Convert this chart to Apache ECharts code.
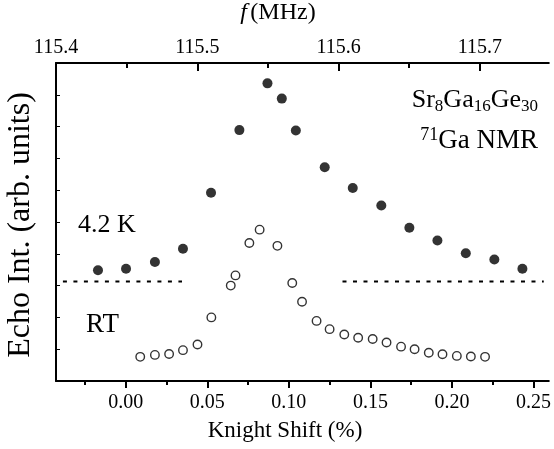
<!DOCTYPE html>
<html>
<head>
<meta charset="utf-8">
<script src="https://cdn.jsdelivr.net/npm/echarts@6/dist/echarts.min.js"></script>
<style>html,body{margin:0;padding:0;background:#fff;}#c{width:554px;height:449px;}</style>
</head>
<body>
<div id="c"></div>
<script>
// ---- data ----
const lowShift = [-0.0170, 0.0002, 0.0179, 0.0351, 0.0523, 0.0697, 0.0869, 0.0957, 0.1043, 0.1220, 0.1392, 0.1567, 0.1739, 0.1911, 0.2085, 0.2260, 0.2432];
const lowEcho  = [3.48, 3.53, 3.74, 4.16, 5.92, 7.89, 9.36, 8.88, 7.88, 6.72, 6.07, 5.52, 4.82, 4.42, 4.02, 3.82, 3.53];
const rtShift = [0.0089, 0.0179, 0.0266, 0.0351, 0.0440, 0.0525, 0.0644, 0.0673, 0.0758, 0.0821, 0.0930, 0.1021, 0.1081, 0.1170, 0.1250, 0.1340, 0.1425, 0.1514, 0.1599, 0.1688, 0.1771, 0.1858, 0.1942, 0.2030, 0.2116, 0.2203];
const rtEcho  = [0.76, 0.82, 0.85, 0.97, 1.15, 2.00, 3.00, 3.32, 4.34, 4.76, 4.25, 3.08, 2.49, 1.89, 1.63, 1.46, 1.36, 1.32, 1.21, 1.08, 1.00, 0.89, 0.84, 0.79, 0.77, 0.76];
const baseLevel = 3.13;
const baseLeft  = [-0.0385, 0.0345];
const baseRight = [0.1329, 0.2563];
const shiftMajorTicks = [0.00, 0.05, 0.10, 0.15, 0.20, 0.25];
const shiftMinorTicks = [-0.025, 0.025, 0.075, 0.125, 0.175, 0.225];
const freqMajorTicks = [115.4, 115.5, 115.6, 115.7];
const freqMinorTicks = [115.45, 115.55, 115.65];
const echoTicks = [1, 2, 3, 4, 5, 6, 7, 8, 9];
const shiftRange = [-0.04274, 0.2594];
const freqRange = [115.4, 115.7488];
const echoRange = [0, 10];

const FONT = '"Liberation Serif", "DejaVu Serif", serif';
const chart = echarts.init(document.getElementById('c'), null, {renderer: 'canvas'});

const lineSty = {color: '#000', width: 2};
chart.setOption({
  animation: false,
  backgroundColor: '#fff',
  grid: {left: 56, right: 1, top: 63, bottom: 68},
  xAxis: [
    { // bottom major
      type: 'value', position: 'bottom', min: shiftRange[0], max: shiftRange[1],
      axisLine: {show: true, onZero: false, lineStyle: lineSty},
      axisTick: {show: true, inside: false, length: 7, lineStyle: {color: '#000', width: 2}, customValues: shiftMajorTicks},
      axisLabel: {show: true, margin: 12, fontFamily: FONT, fontSize: 20, color: '#000', customValues: shiftMajorTicks,
        formatter: v => v.toFixed(2)},
      splitLine: {show: false}
    },
    { // bottom minor
      type: 'value', position: 'bottom', min: shiftRange[0], max: shiftRange[1],
      axisLine: {show: false, onZero: false},
      axisTick: {show: true, inside: false, length: 4, lineStyle: {color: '#000', width: 2}, customValues: shiftMinorTicks},
      axisLabel: {show: false},
      splitLine: {show: false}
    },
    { // top major (frequency)
      type: 'value', position: 'top', min: freqRange[0], max: freqRange[1],
      axisLine: {show: true, onZero: false, lineStyle: lineSty},
      axisTick: {show: true, inside: true, length: 8, lineStyle: {color: '#000', width: 2}, customValues: freqMajorTicks},
      axisLabel: {show: true, margin: 5, fontFamily: FONT, fontSize: 20, color: '#000', customValues: freqMajorTicks,
        formatter: v => v.toFixed(1)},
      splitLine: {show: false}
    },
    { // top minor
      type: 'value', position: 'top', min: freqRange[0], max: freqRange[1],
      axisLine: {show: false, onZero: false},
      axisTick: {show: true, inside: true, length: 5, lineStyle: {color: '#000', width: 2}, customValues: freqMinorTicks},
      axisLabel: {show: false},
      splitLine: {show: false}
    }
  ],
  yAxis: [{
    type: 'value', position: 'left', min: echoRange[0], max: echoRange[1],
    axisLine: {show: true, onZero: false, lineStyle: lineSty},
    axisTick: {show: true, inside: true, length: 4, lineStyle: {color: '#000', width: 1}, customValues: echoTicks},
    axisLabel: {show: false},
    splitLine: {show: false}
  }],
  series: [
    {
      name: '4.2 K', type: 'scatter', xAxisIndex: 0, yAxisIndex: 0,
      symbol: 'circle', symbolSize: 10,
      itemStyle: {color: '#000'},
      data: lowShift.map((x, i) => [x, lowEcho[i]])
    },
    {
      name: 'RT', type: 'scatter', xAxisIndex: 0, yAxisIndex: 0,
      symbol: 'circle', symbolSize: 8.5,
      itemStyle: {color: '#fff', borderColor: '#000', borderWidth: 1.4},
      data: rtShift.map((x, i) => [x, rtEcho[i]])
    },
    {
      type: 'line', xAxisIndex: 0, yAxisIndex: 0, symbol: 'none',
      lineStyle: {color: '#000', width: 2, type: [4, 6.5]},
      data: baseLeft.map(x => [x, baseLevel])
    },
    {
      type: 'line', xAxisIndex: 0, yAxisIndex: 0, symbol: 'none',
      lineStyle: {color: '#000', width: 2, type: [4, 6.5]},
      data: baseRight.map(x => [x, baseLevel])
    }
  ],
  graphic: [
    {type: 'text', x: 278, y: 13, style: {
      text: '{i|f} {n|(MHz)}', textAlign: 'center', textVerticalAlign: 'middle',
      rich: {i: {fontFamily: FONT, fontStyle: 'italic', fontSize: 24, fill: '#000'},
             n: {fontFamily: FONT, fontSize: 24, fill: '#000'}}}},
    {type: 'text', x: 285, y: 431, style: {
      text: 'Knight Shift (%)', fontFamily: FONT, fontSize: 23, fill: '#000',
      textAlign: 'center', textVerticalAlign: 'middle'}},
    {type: 'text', x: 21, y: 225, rotation: Math.PI / 2, style: {
      text: 'Echo Int. (arb. units)', fontFamily: FONT, fontSize: 32, fill: '#000',
      textAlign: 'center', textVerticalAlign: 'middle'}},
    {type: 'text', x: 538, y: 100, style: {
      text: '{m|Sr}{s|8}{m|Ga}{s|16}{m|Ge}{s|30}', textAlign: 'right', textVerticalAlign: 'middle',
      rich: {m: {fontFamily: FONT, fontSize: 26, lineHeight: 30, fill: '#000'},
             s: {fontFamily: FONT, fontSize: 17, lineHeight: 16, verticalAlign: 'bottom', fill: '#000'}}}},
    {type: 'text', x: 538, y: 141, style: {
      text: '{s|71}{m|Ga NMR}', textAlign: 'right', textVerticalAlign: 'middle',
      rich: {m: {fontFamily: FONT, fontSize: 27, lineHeight: 30, fill: '#000'},
             s: {fontFamily: FONT, fontSize: 18, lineHeight: 16, verticalAlign: 'top', fill: '#000'}}}},
    {type: 'text', x: 78, y: 225, style: {
      text: '4.2 K', fontFamily: FONT, fontSize: 26, fill: '#000', textAlign: 'left', textVerticalAlign: 'middle'}},
    {type: 'text', x: 86, y: 325, style: {
      text: 'RT', fontFamily: FONT, fontSize: 27, fill: '#000', textAlign: 'left', textVerticalAlign: 'middle'}}
  ]
});
</script>
</body>
</html>
